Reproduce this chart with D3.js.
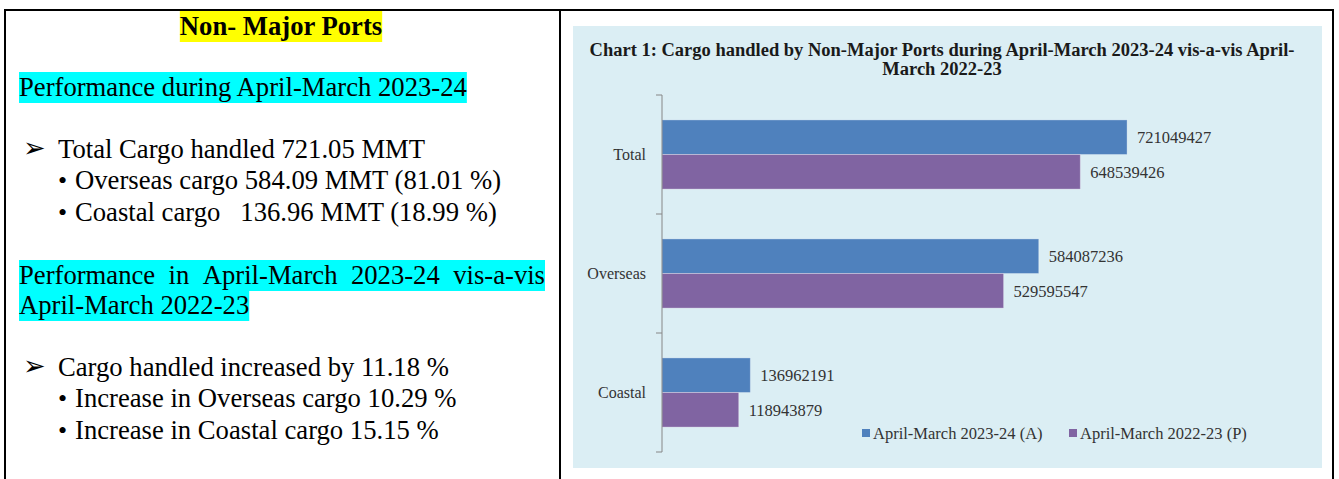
<!DOCTYPE html>
<html>
<head>
<meta charset="utf-8">
<script src="https://cdn.jsdelivr.net/npm/d3@7"></script>
<style>
body { margin: 0; background: #fff; }
svg { display: block; }
text { font-family: "Liberation Serif", "Times New Roman", serif; }
</style>
</head>
<body>
<script>
// chart data
var categories = ['Total', 'Overseas', 'Coastal'];
var seriesNames = ['April-March 2023-24 (A)', 'April-March 2022-23 (P)'];
var seriesColors = ['#4F81BD', '#8064A2'];
var current = [721049427, 584087236, 136962191];
var previous = [648539426, 529595547, 118943879];
var axisMax = 800000000;
var chartTitle = ['Chart 1: Cargo handled by Non-Major Ports during April-March 2023-24 vis-a-vis April-',
    'March 2022-23'];

// left-hand notes
var heading = 'Non- Major Ports';
var block1Title = 'Performance during April-March 2023-24';
var block1Main = 'Total Cargo handled 721.05 MMT';
var block1Items = ['Overseas cargo 584.09 MMT (81.01 %)', 'Coastal cargo   136.96 MMT (18.99 %)'];
var block2Title = ['Performance in April-March 2023-24 vis-a-vis', 'April-March 2022-23'];
var block2Main = 'Cargo handled increased by 11.18 %';
var block2Items = ['Increase in Overseas cargo 10.29 %', 'Increase in Coastal cargo 15.15 %'];

var W = 1339, H = 479;
var svg = d3.select('body').append('svg').attr('width', W).attr('height', H);

// table frame
var frame = svg.append('g').attr('stroke', '#000').attr('stroke-width', 2);
frame.append('line').attr('x1', 4).attr('x2', 1334).attr('y1', 10).attr('y2', 10);
frame.append('line').attr('x1', 5).attr('x2', 5).attr('y1', 9).attr('y2', H);
frame.append('line').attr('x1', 560).attr('x2', 560).attr('y1', 9).attr('y2', H);
frame.append('line').attr('x1', 1333).attr('x2', 1333).attr('y1', 9).attr('y2', H);

// ---- left panel ----
var FS = 26.67;
var left = svg.append('g');

function highlighted(x, y, str, bg, bold, anchor) {
    var t = left.append('text')
        .attr('x', x).attr('y', y)
        .attr('font-size', FS)
        .attr('font-weight', bold ? 'bold' : null)
        .attr('text-anchor', anchor || 'start')
        .style('white-space', 'pre')
        .text(str);
    var w = t.node().getComputedTextLength();
    var x0 = anchor === 'middle' ? x - w / 2 : x;
    left.insert('rect', 'text')
        .attr('x', x0).attr('y', y - 24)
        .attr('width', w).attr('height', 31)
        .attr('fill', bg);
    return t;
}

function plain(x, y, str) {
    return left.append('text')
        .attr('x', x).attr('y', y)
        .attr('font-size', FS)
        .style('white-space', 'pre')
        .text(str);
}

function arrow(y) {
    left.append('text')
        .attr('x', 23).attr('y', y - 1)
        .attr('font-size', 27)
        .style('font-family', 'DejaVu Sans')
        .text('\u27A2');
}

function bullet(y) {
    left.append('text')
        .attr('x', 58).attr('y', y)
        .attr('font-size', 26)
        .text('\u2022');
}

highlighted(281, 35, heading, '#FFFF00', true, 'middle');
highlighted(19, 96, block1Title, '#00FFFF');

arrow(158);
plain(58, 158, block1Main);
block1Items.forEach(function (s, i) {
    bullet(189 + i * 31.5);
    plain(75, 189 + i * 31.5, s);
});

// justified first line of block 2
(function () {
    var words = block2Title[0].split(' ');
    var x0 = 19, x1 = 545, y = 284;
    left.append('rect').attr('x', x0).attr('y', y - 24)
        .attr('width', x1 - x0).attr('height', 31).attr('fill', '#00FFFF');
    var nodes = words.map(function (w) {
        return left.append('text').attr('y', y).attr('font-size', FS).text(w);
    });
    var widths = nodes.map(function (n) { return n.node().getComputedTextLength(); });
    var gap = (x1 - x0 - d3.sum(widths)) / (words.length - 1);
    var x = x0;
    nodes.forEach(function (n, i) {
        n.attr('x', x);
        x += widths[i] + gap;
    });
})();
highlighted(19, 314, block2Title[1], '#00FFFF');

arrow(376);
plain(58, 376, block2Main);
block2Items.forEach(function (s, i) {
    bullet(407 + i * 31.5);
    plain(75, 407 + i * 31.5, s);
});

// ---- chart panel ----
var panel = { x: 573, y: 26, w: 749, h: 442 };
svg.append('rect')
    .attr('x', panel.x).attr('y', panel.y)
    .attr('width', panel.w).attr('height', panel.h)
    .attr('fill', '#DBEEF4');

var titleG = svg.append('g');
var t1 = titleG.append('text')
    .attr('x', 942).attr('y', 56)
    .attr('text-anchor', 'middle')
    .attr('font-weight', 'bold')
    .attr('font-size', 17)
    .attr('fill', '#1a1a1a')
    .text(chartTitle[0]);
// fit first title line to the width seen in the original
var tfs = 17 * 705 / t1.node().getComputedTextLength();
t1.attr('font-size', tfs);
titleG.append('text')
    .attr('x', 942).attr('y', 75)
    .attr('text-anchor', 'middle')
    .attr('font-weight', 'bold')
    .attr('font-size', tfs)
    .attr('fill', '#1a1a1a')
    .text(chartTitle[1]);

var plot = { left: 662, top: 95, bottom: 452 };
var x = d3.scaleLinear().domain([0, axisMax]).range([plot.left, 1178]);
var y = d3.scaleBand().domain(categories).range([plot.top, plot.bottom]);
var ySub = d3.scaleBand().domain([0, 1]).range([0, y.bandwidth()]).paddingOuter(0.72);

var rows = categories.map(function (c, i) {
    return { cat: c, vals: [current[i], previous[i]] };
});

var g = svg.append('g');
var barData = [];
rows.forEach(function (r) {
    r.vals.forEach(function (v, k) {
        barData.push({ cat: r.cat, k: k, v: v });
    });
});

g.selectAll('rect.bar')
    .data(barData)
    .enter()
    .append('rect')
    .attr('class', 'bar')
    .attr('x', plot.left)
    .attr('y', function (d) { return y(d.cat) + ySub(d.k); })
    .attr('width', function (d) { return x(d.v) - plot.left; })
    .attr('height', ySub.bandwidth())
    .attr('fill', function (d) { return seriesColors[d.k]; })
    .attr('stroke', 'rgba(255,255,255,0.3)')
    .attr('stroke-width', 1);

g.selectAll('text.val')
    .data(barData)
    .enter()
    .append('text')
    .attr('class', 'val')
    .attr('x', function (d) { return x(d.v) + 10; })
    .attr('y', function (d) { return y(d.cat) + ySub(d.k) + ySub.bandwidth() / 2; })
    .attr('dy', '0.35em')
    .attr('font-size', 16.5)
    .attr('fill', '#333')
    .text(function (d) { return d.v; });

// category axis
var axis = svg.append('g').attr('transform', 'translate(' + plot.left + ',0)')
    .call(d3.axisLeft(y).tickSize(0).tickPadding(16));
axis.select('.domain').attr('stroke', '#868686').attr('d', 'M0,' + plot.top + 'V' + plot.bottom);
axis.selectAll('text')
    .attr('font-family', '"Liberation Serif", serif')
    .attr('font-size', 16)
    .attr('fill', '#333');
var bounds = categories.map(function (c) { return y(c); }).concat([plot.bottom]);
axis.selectAll('line.bound')
    .data(bounds)
    .enter()
    .append('line')
    .attr('class', 'bound')
    .attr('x1', -6).attr('x2', 0)
    .attr('y1', function (d) { return d; })
    .attr('y2', function (d) { return d; })
    .attr('stroke', '#868686');

// legend
var legendX = [862, 1069];
var legend = svg.append('g').selectAll('g')
    .data(seriesNames)
    .enter()
    .append('g')
    .attr('transform', function (d, i) { return 'translate(' + legendX[i] + ',433)'; });
legend.append('rect')
    .attr('x', 0).attr('y', -4)
    .attr('width', 8).attr('height', 8)
    .attr('fill', function (d, i) { return seriesColors[i]; });
legend.append('text')
    .attr('x', 11).attr('dy', '0.35em')
    .attr('font-size', 16.5)
    .attr('fill', '#333')
    .text(function (d) { return d; });
</script>
</body>
</html>
